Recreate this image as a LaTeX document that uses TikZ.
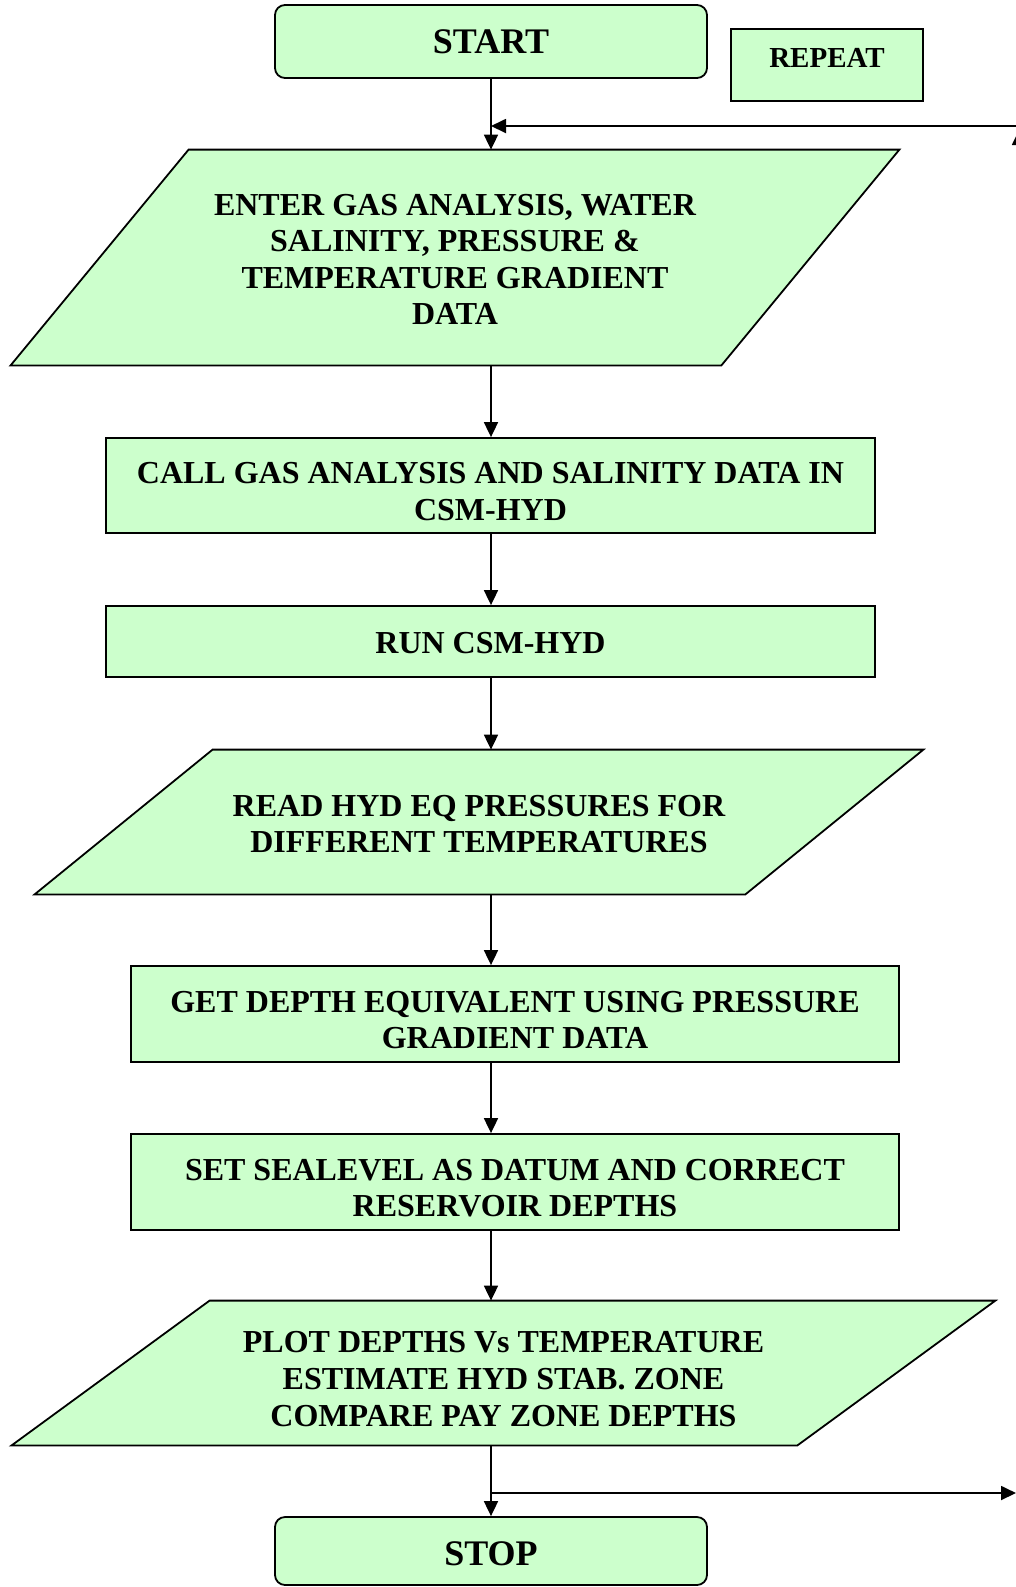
\documentclass[tikz,border=0pt]{standalone}
\usepackage{fontspec}
\setmainfont{Liberation Serif}
\usetikzlibrary{arrows.meta,backgrounds}
\definecolor{boxgreen}{HTML}{CCFFCC}
\newcommand{\toppad}[1]{\rule{0pt}{#1}}

\begin{document}
\begin{tikzpicture}[x=0.5pt,y=-0.5pt,>={Triangle[length=7.5pt,width=7pt]},
  every node/.style={font=\bfseries\fontsize{16}{18.3}\selectfont,align=center,inner sep=0pt},
  box/.style={draw,line width=0.9pt,fill=boxgreen,rectangle,minimum width=384.5pt},
  term/.style={box,rounded corners=5pt,minimum width=216pt,font=\bfseries\fontsize{18}{20}\selectfont},
  paranode/.style={rectangle,minimum width=444pt},
  parashape/.style={draw,line width=0.9pt,fill=boxgreen},
  link/.style={->,line width=0.9pt}]
  \useasboundingbox (0,0) rectangle (1016,1587);
  \node[term,minimum height=36.5pt] (start) at (491,41.5) {START};
  \node[box,minimum width=96pt,minimum height=36pt,text depth=7pt,font=\bfseries\fontsize{14.5}{16}\selectfont] (repeat) at (827,65) {REPEAT};
  \node[paranode,minimum height=107.5pt] (enter) at (455,257.5)
    {\toppad{12.6pt}ENTER GAS ANALYSIS, WATER\\ SALINITY, PRESSURE \&\\ TEMPERATURE GRADIENT\\ DATA};
  \node[box,minimum height=47.5pt] (call) at (490.5,485.5) {\toppad{16.6pt}CALL GAS ANALYSIS AND SALINITY DATA IN\\ CSM-HYD};
  \node[box,minimum height=35.5pt] (run) at (490.5,641.5) {\toppad{12.6pt}RUN CSM-HYD};
  \node[paranode,minimum height=72pt] (read) at (479,822)
    {\toppad{12.6pt}READ HYD EQ PRESSURES FOR\\ DIFFERENT TEMPERATURES};
  \node[box,minimum width=384pt,minimum height=48pt] (depth) at (515,1014) {\toppad{16.6pt}GET DEPTH EQUIVALENT USING PRESSURE\\ GRADIENT DATA};
  \node[box,minimum width=384pt,minimum height=48pt] (datum) at (515,1182) {\toppad{16.6pt}SET SEALEVEL AS DATUM AND CORRECT\\ RESERVOIR DEPTHS};
  \node[paranode,minimum width=491.5pt,minimum height=72pt] (plot) at (503.5,1373)
    {\toppad{16.6pt}PLOT DEPTHS Vs TEMPERATURE\\ ESTIMATE HYD STAB. ZONE\\ COMPARE PAY ZONE DEPTHS};
  \node[term,minimum height=34pt] (stop) at (491,1551) {\toppad{15pt}STOP};
  \begin{scope}[on background layer]
    \draw[parashape] ([xshift=89pt]enter.north west) -- (enter.north east) -- ([xshift=-89pt]enter.south east) -- (enter.south west) -- cycle;
    \draw[parashape] ([xshift=89pt]read.north west) -- (read.north east) -- ([xshift=-89pt]read.south east) -- (read.south west) -- cycle;
    \draw[parashape] ([xshift=99pt]plot.north west) -- (plot.north east) -- ([xshift=-99pt]plot.south east) -- (plot.south west) -- cycle;
  \end{scope}
  \coordinate (loopin) at (1030,126);
  \coordinate (loopout) at (1016,1493);
  \coordinate (loopbot) at (1019,1493);
  \coordinate (looptop) at (1019,130);
  \draw[link] (start.south) -- (start.south |- enter.north);
  \draw[link] (start |- enter.south) -- (start |- call.north);
  \draw[link] (start |- call.south) -- (start |- run.north);
  \draw[link] (start |- run.south) -- (start |- read.north);
  \draw[link] (start |- read.south) -- (start |- depth.north);
  \draw[link] (start |- depth.south) -- (start |- datum.north);
  \draw[link] (start |- datum.south) -- (start |- plot.north);
  \draw[link] (start |- plot.south) -- (stop.north);
  \draw[link] (start |- loopout) -- (loopout);
  \draw[link] (loopbot) -- (looptop);
  \draw[link] (loopin) -- (start |- loopin);
\end{tikzpicture}
\end{document}
